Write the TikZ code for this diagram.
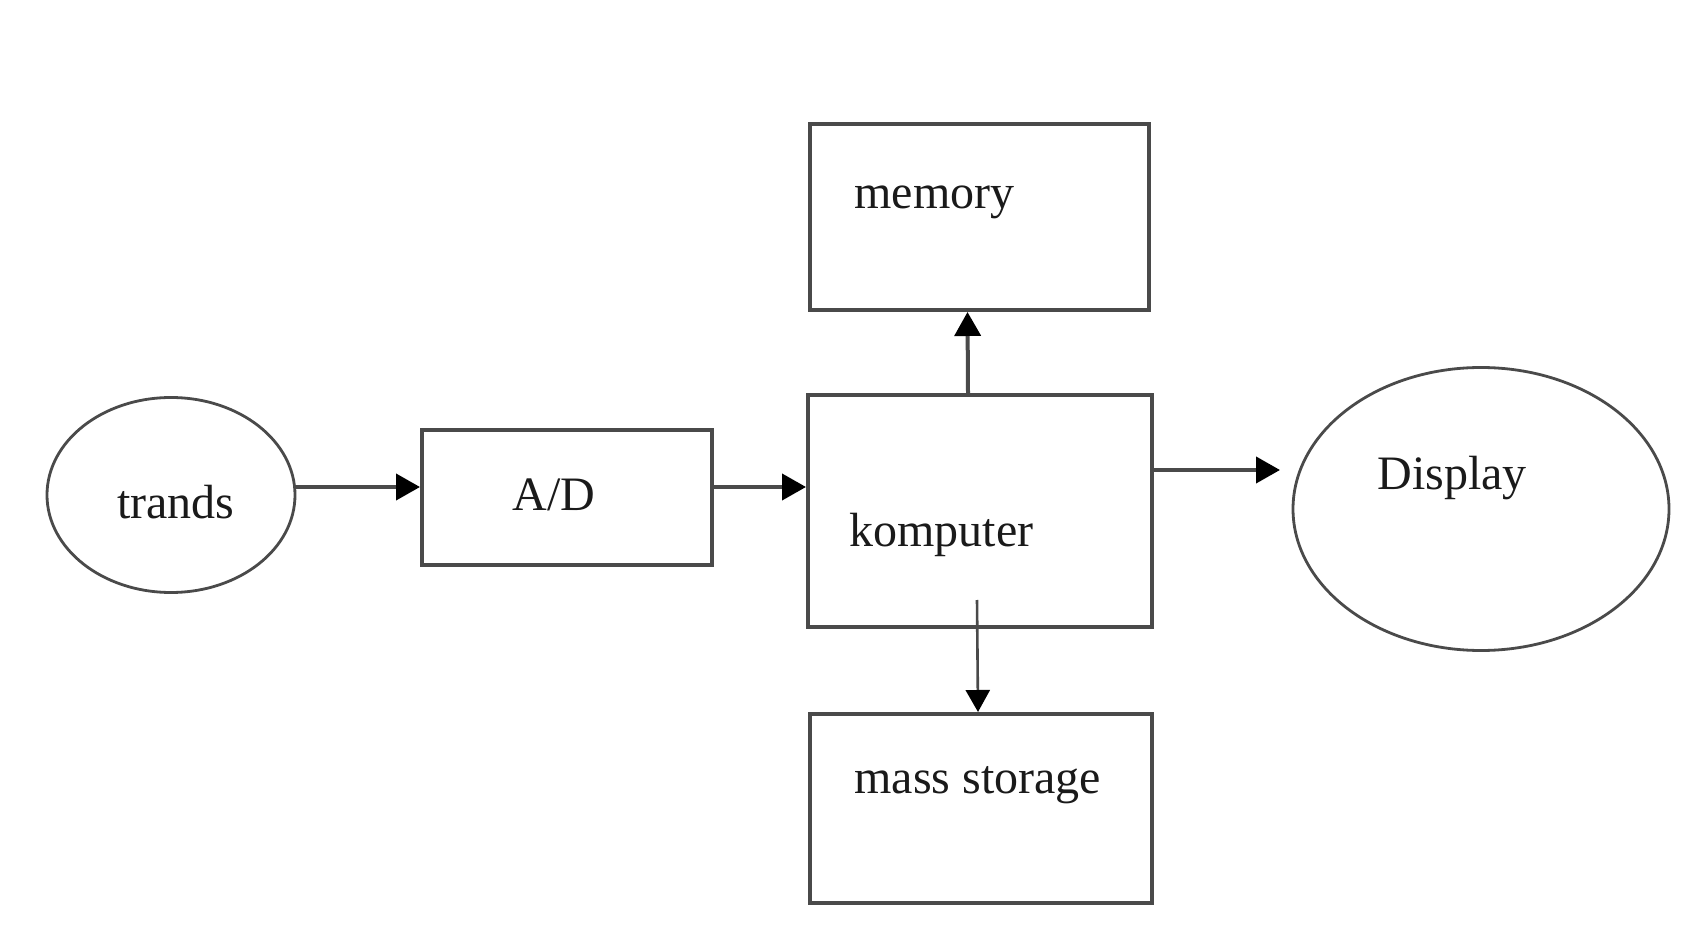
\documentclass[tikz,border=0pt]{standalone}
\usepackage{fontspec}
\setmainfont{Liberation Serif}
\usetikzlibrary{arrows.meta,shapes.geometric}
\definecolor{edge}{HTML}{4A4A4A}
\definecolor{ink}{HTML}{1A1A1A}
\tikzset{
  box/.style={draw=edge, line width=2pt, rectangle, inner sep=0pt},
  oval/.style={draw=edge, line width=1.4pt, ellipse, inner sep=0pt},
  lbl/.style={text=ink, inner sep=0pt, font=\fontsize{24}{28}\selectfont},
  arr/.style={draw=edge, line width=2pt, -{Triangle[length=12pt,width=13pt,color=black]}},
  thinarr/.style={draw=edge, line width=1.3pt, -{Triangle[length=11pt,width=12pt,color=black]}}
}
\begin{document}
\begin{tikzpicture}[x=0.5pt,y=-0.5pt]
  \useasboundingbox (0,0) rectangle (1696,940);

  % blocks
  \node[oval, minimum width=124pt, minimum height=97.5pt] (trands) at (171,495) {};
  \node[box, minimum width=145pt, minimum height=67.5pt] (ad) at (567,497.5) {};
  \node[box, minimum width=172pt, minimum height=116pt] (komp) at (980,511) {};
  \node[box, minimum width=169.5pt, minimum height=93pt] (mem) at (979.5,217) {};
  \node[box, minimum width=171pt, minimum height=94.5pt] (mass) at (981,808.5) {};
  \node[oval, minimum width=188pt, minimum height=141.5pt] (disp) at (1481,509) {};

  % labels
  \node[lbl, anchor=base] (ttrands) at (176,518) {trands};
  \node[lbl, anchor=base] (tad) at (554,510) {A/D};
  \node[lbl, anchor=base west] (tkomp) at (849,546) {komputer};
  \node[lbl, anchor=base west] (tmem) at (854,209) {memory};
  \node[lbl, anchor=base west] (tmass) at (854,793) {mass storage};
  \node[lbl, anchor=base] (tdisp) at (1452,490) {Display};

  % connectors
  \coordinate (row) at (0,487);
  \coordinate (dispin) at (1280,470);
  \draw[arr] (trands.east |- row) -- (ad.west |- row);
  \draw[arr] (ad.east |- row) -- (komp.west |- row);
  \draw[arr] (komp.east |- dispin) -- (dispin);
  \draw[arr] ([xshift=-6pt]komp.north) -- ([xshift=-6pt]mem.south);
  \draw[thinarr] ([xshift=-1.5pt,yshift=14.5pt]komp.south) -- ([xshift=-1.5pt]mass.north);
\end{tikzpicture}
\end{document}
